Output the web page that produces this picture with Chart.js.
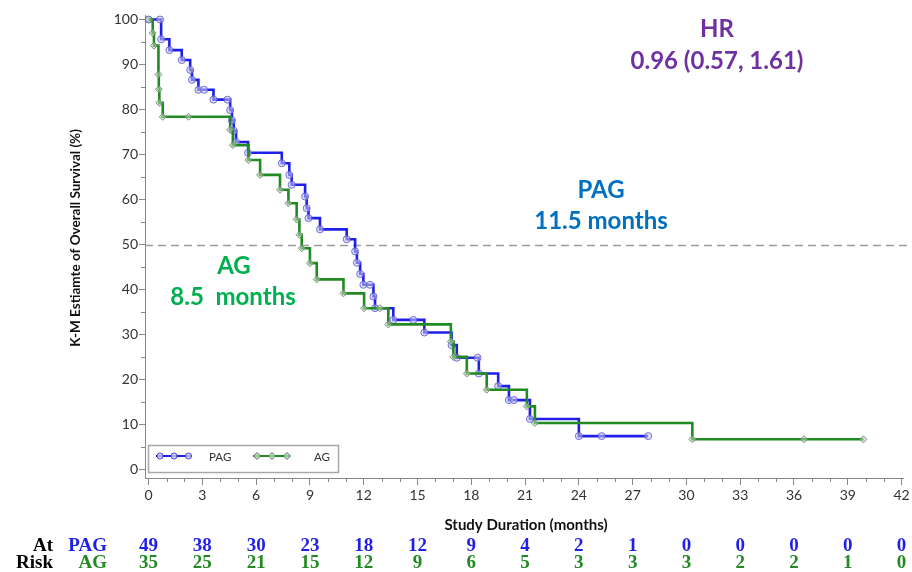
<!DOCTYPE html>
<html>
<head>
<meta charset="utf-8">
<title>K-M Overall Survival: PAG vs AG</title>
<script src="https://cdn.jsdelivr.net/npm/chart.js@4.4.1/dist/chart.umd.min.js"></script>
<style>
  html, body { margin: 0; padding: 0; background: #ffffff; }
  #wrap { width: 912px; height: 572px; position: relative; }
</style>
</head>
<body>
<div id="wrap"><canvas id="km" width="912" height="572"></canvas></div>
<script>
// Kaplan-Meier estimates (months, % surviving); repeated levels are censored observations
const pagTimes = [0, 0.64, 0.70, 1.16, 1.85, 2.32, 2.42, 2.78, 3.10, 3.62,
                  4.40, 4.55, 4.65, 4.75, 4.88, 5.55, 7.43, 7.85, 7.98, 8.73,
                  8.82, 8.92, 9.56, 11.05, 11.52, 11.62, 11.80, 11.98, 12.35, 12.54,
                  12.63, 13.65, 14.77, 15.38, 16.90, 17.19, 18.35, 18.42, 19.50, 20.10,
                  20.38, 21.27, 24.00, 25.27, 27.87];
const pagSurv  = [100, 100, 95.6, 93.2, 91.0, 88.8, 86.6, 84.4, 84.4, 82.2,
                  82.2, 79.9, 77.6, 75.3, 72.8, 70.4, 68.1, 65.5, 63.3, 60.7,
                  58.1, 55.9, 53.4, 51.2, 48.5, 46.0, 43.5, 41.1, 41.1, 38.5,
                  35.9, 33.3, 33.3, 30.5, 27.7, 24.9, 24.9, 21.4, 18.6, 15.5,
                  15.5, 11.3, 7.5, 7.5, 7.5];

const agTimes = [0, 0.23, 0.30, 0.55, 0.57, 0.60, 0.79, 2.22, 4.55, 4.70,
                 5.57, 6.22, 7.33, 7.80, 8.26, 8.41, 8.54, 9.00, 9.38, 10.87,
                 12.02, 12.90, 13.37, 16.86, 17.00, 17.75, 18.86, 21.10, 21.55, 30.33,
                 36.56, 39.87];
const agSurv  = [100, 97.0, 94.2, 87.8, 84.5, 81.5, 78.4, 78.4, 75.5, 72.1,
                 68.8, 65.5, 62.2, 59.2, 55.6, 52.2, 49.2, 45.9, 42.3, 39.2,
                 35.9, 35.9, 32.3, 28.5, 25.1, 21.4, 17.8, 14.1, 10.4, 6.8,
                 6.8, 6.8];

// Axis ticks and number-at-risk table
const xMajorTicks = [0, 3, 6, 9, 12, 15, 18, 21, 24, 27, 30, 33, 36, 39, 42];
const yMajorTicks = [0, 10, 20, 30, 40, 50, 60, 70, 80, 90, 100];
const riskTimes = xMajorTicks;
const riskPag = [49, 38, 30, 23, 18, 12, 9, 4, 2, 1, 0, 0, 0, 0, 0];
const riskAg  = [35, 25, 21, 15, 12, 9, 6, 5, 3, 3, 3, 2, 2, 1, 0];
const medianLevel = 50;

const BLUE = '#1f1fe8';
const GREEN = '#228a22';
const SANS = 'Lato, "Open Sans", "DejaVu Sans", sans-serif';
const SERIF = '"Liberation Serif", "DejaVu Serif", serif';

const toPoints = (ts, ss) => ts.map((t, i) => ({ x: t, y: ss[i] }));

const kmDecor = {
  id: 'kmDecor',
  beforeDatasetsDraw(chart) {
    const { ctx, chartArea, scales: { y } } = chart;
    const yy = Math.round(y.getPixelForValue(medianLevel)) + 0.5;
    ctx.save();
    ctx.strokeStyle = '#9b9b9b';
    ctx.lineWidth = 1.3;
    ctx.setLineDash([8, 5]);
    ctx.beginPath();
    ctx.moveTo(chartArea.left, yy);
    ctx.lineTo(chartArea.right + 4, yy);
    ctx.stroke();
    ctx.restore();
  },
  afterDraw(chart) {
    const { ctx, chartArea, scales: { x, y } } = chart;
    ctx.save();

    // minor tick marks
    ctx.strokeStyle = '#888';
    ctx.lineWidth = 1;
    ctx.beginPath();
    for (let t = 1; t < 42; t++) {
      if (t % 3 === 0) continue;
      const px = Math.round(x.getPixelForValue(t)) + 0.5;
      ctx.moveTo(px, chartArea.bottom);
      ctx.lineTo(px, chartArea.bottom + 4);
    }
    for (let v = 5; v < 100; v += 10) {
      const py = Math.round(y.getPixelForValue(v)) + 0.5;
      ctx.moveTo(chartArea.left - 4, py);
      ctx.lineTo(chartArea.left, py);
    }
    ctx.stroke();

    // axis titles
    ctx.fillStyle = '#111';
    ctx.textAlign = 'center';
    ctx.textBaseline = 'middle';
    ctx.font = 'bold 15px ' + SANS;
    ctx.fillText('Study Duration (months)', 526, 525);
    ctx.save();
    ctx.translate(76, 238);
    ctx.rotate(-Math.PI / 2);
    ctx.font = 'bold 13.5px ' + SANS;
    ctx.fillText('K-M Estiamte of Overall Survival (%)', 0, 0);
    ctx.restore();

    // annotations
    ctx.font = 'bold 24px ' + SANS;
    ctx.fillStyle = '#7030a0';
    ctx.fillText('HR', 717, 29);
    ctx.fillText('0.96 (0.57, 1.61)', 717, 61);
    ctx.fillStyle = '#0070c0';
    ctx.fillText('PAG', 601, 190);
    ctx.fillText('11.5 months', 601, 221);
    ctx.fillStyle = '#00b050';
    ctx.fillText('AG', 234, 266);
    ctx.fillText('8.5  months', 233, 297);

    // number at risk
    ctx.font = 'bold 19px ' + SERIF;
    ctx.textAlign = 'right';
    ctx.fillStyle = '#000';
    ctx.fillText('At', 53, 546);
    ctx.fillText('Risk', 53, 563);
    ctx.fillStyle = BLUE;
    ctx.fillText('PAG', 107, 546);
    ctx.fillStyle = GREEN;
    ctx.fillText('AG', 107, 563);
    ctx.textAlign = 'center';
    riskTimes.forEach((t, i) => {
      const px = x.getPixelForValue(t);
      ctx.fillStyle = BLUE;
      ctx.fillText(String(riskPag[i]), px, 546);
      ctx.fillStyle = GREEN;
      ctx.fillText(String(riskAg[i]), px, 563);
    });

    // legend
    const lx = 148.5, ly = 445.5, lw = 190, lh = 27;
    ctx.fillStyle = '#fff';
    ctx.fillRect(lx, ly, lw, lh);
    ctx.strokeStyle = '#a8a8a8';
    ctx.lineWidth = 1.5;
    ctx.strokeRect(lx, ly, lw, lh);
    const cy = 456;
    ctx.lineWidth = 2;
    ctx.strokeStyle = BLUE;
    ctx.beginPath(); ctx.moveTo(156, cy); ctx.lineTo(192, cy); ctx.stroke();
    ctx.strokeStyle = GREEN;
    ctx.beginPath(); ctx.moveTo(253, cy); ctx.lineTo(290, cy); ctx.stroke();
    ctx.lineWidth = 1;
    [160, 174, 188.5].forEach(px => {
      ctx.beginPath(); ctx.arc(px, cy, 3, 0, Math.PI * 2);
      ctx.fillStyle = 'rgba(200,200,240,0.8)'; ctx.fill();
      ctx.strokeStyle = 'rgba(60,60,210,0.9)'; ctx.stroke();
    });
    [257, 272, 287].forEach(px => {
      ctx.beginPath();
      ctx.moveTo(px, cy - 3.5); ctx.lineTo(px + 3.5, cy); ctx.lineTo(px, cy + 3.5); ctx.lineTo(px - 3.5, cy); ctx.closePath();
      ctx.fillStyle = 'rgba(190,210,190,0.8)'; ctx.fill();
      ctx.strokeStyle = 'rgba(60,120,60,0.9)'; ctx.stroke();
    });
    ctx.fillStyle = '#333';
    ctx.font = '11.5px ' + SANS;
    ctx.textAlign = 'left';
    ctx.fillText('PAG', 209, cy + 1);
    ctx.fillText('AG', 314, cy + 1);

    ctx.restore();
  }
};

new Chart(document.getElementById('km'), {
  type: 'line',
  data: {
    datasets: [
      {
        label: 'AG',
        data: toPoints(agTimes, agSurv),
        stepped: true,
        borderColor: GREEN,
        borderWidth: 2.6,
        pointStyle: 'rectRot',
        pointRadius: 3.5,
        pointBorderWidth: 1,
        pointBackgroundColor: 'rgba(190,210,190,0.55)',
        pointBorderColor: 'rgba(100,140,100,0.85)',
        fill: false,
        order: 1
      },
      {
        label: 'PAG',
        data: toPoints(pagTimes, pagSurv),
        stepped: true,
        borderColor: BLUE,
        borderWidth: 2.6,
        pointStyle: 'circle',
        pointRadius: 3.5,
        pointBorderWidth: 1,
        pointBackgroundColor: 'rgba(200,200,240,0.55)',
        pointBorderColor: 'rgba(90,90,210,0.85)',
        fill: false,
        order: 2
      }
    ]
  },
  options: {
    responsive: false,
    animation: false,
    devicePixelRatio: 1,
    layout: { padding: { left: 0, right: 9, top: 15, bottom: 0 } },
    plugins: {
      legend: { display: false },
      tooltip: { enabled: false }
    },
    scales: {
      x: {
        type: 'linear',
        min: -0.2,
        max: 42.08,
        afterBuildTicks: s => { s.ticks = xMajorTicks.map(v => ({ value: v })); },
        afterFit: s => { s.height = 94; },
        ticks: {
          autoSkip: false, maxRotation: 0, padding: 2,
          color: '#333', font: { family: SANS, size: 14 }
        },
        grid: { drawOnChartArea: false, tickLength: 7, color: '#888', tickWidth: 1 },
        border: { color: '#888', width: 1 }
      },
      y: {
        type: 'linear',
        min: -1.8,
        max: 101,
        afterBuildTicks: s => { s.ticks = yMajorTicks.map(v => ({ value: v })); },
        afterFit: s => { s.width = 145; },
        ticks: {
          autoSkip: false, padding: 1,
          color: '#333', font: { family: SANS, size: 14 }
        },
        grid: { drawOnChartArea: false, tickLength: 6, color: '#888', tickWidth: 1 },
        border: { color: '#888', width: 1 }
      }
    }
  },
  plugins: [kmDecor]
});
</script>
</body>
</html>
